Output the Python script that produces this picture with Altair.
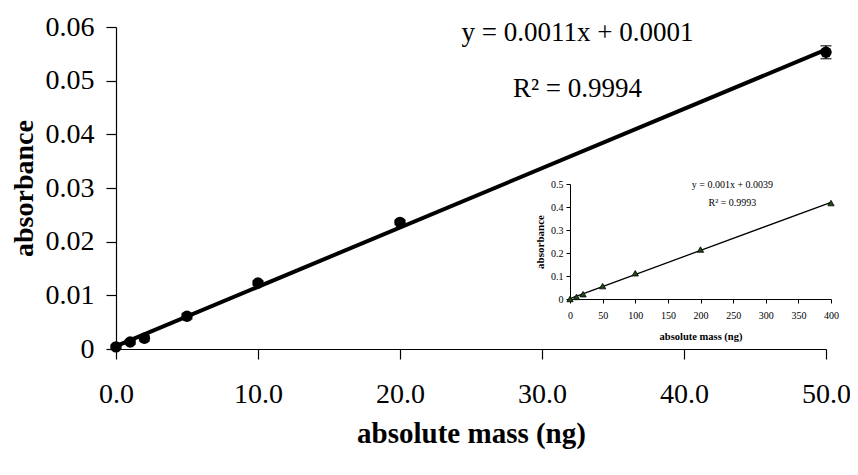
import altair as alt
import pandas as pd

# ---- main calibration data (ng vs absorbance) ----
mass_ng = [0, 1, 2, 5, 10, 20, 50]
absorbance = [0.0004, 0.0013, 0.0020, 0.0061, 0.0123, 0.0236, 0.0553]
abs_err = [0.0003, 0.0004, 0.0005, 0.0005, 0.0004, 0.0004, 0.0012]

# ---- inset data ----
inset_mass = [0, 10, 20, 50, 100, 200, 400]
inset_abs = [0.0, 0.009, 0.021, 0.056, 0.112, 0.215, 0.417]

# ---- tick values ----
x_ticks = [0, 10, 20, 30, 40, 50]
y_ticks = [0, 0.01, 0.02, 0.03, 0.04, 0.05, 0.06]
inset_x_ticks = [0, 50, 100, 150, 200, 250, 300, 350, 400]
inset_y_ticks = [0, 0.1, 0.2, 0.3, 0.4, 0.5]

# ---- annotations ----
main_eq_text = ["y = 0.0011x + 0.0001", "R\u00b2 = 0.9994"]
main_eq_x = [32.5, 32.5]
main_eq_y = [0.0589, 0.0484]
inset_eq_text = ["y = 0.001x + 0.0039", "R\u00b2 = 0.9993"]
inset_eq_x = [249, 249]
inset_eq_y = [0.497, 0.417]

FONT = "Liberation Serif"
W, H = 710, 322

main_df = pd.DataFrame({
    "mass": mass_ng,
    "abs": absorbance,
    "lo": [a - e for a, e in zip(absorbance, abs_err)],
    "hi": [a + e for a, e in zip(absorbance, abs_err)],
})
inset_df = pd.DataFrame({"mass": inset_mass, "abs": inset_abs})
main_ann = pd.DataFrame({"t": main_eq_text, "x": main_eq_x, "y": main_eq_y})
inset_ann = pd.DataFrame({"t": inset_eq_text, "x": inset_eq_x, "y": inset_eq_y})

xs = alt.Scale(domain=[0, 50], nice=False, zero=False)
ys = alt.Scale(domain=[0, 0.06], nice=False)

x_axis = alt.Axis(
    values=x_ticks, format=".1f", grid=False, tickSize=10, labelPadding=21,
    labelFontSize=28, labelFont=FONT, labelColor="black", labelFlush=False,
    title="absolute mass (ng)", titleFont=FONT, titleFontSize=29,
    titleFontWeight="bold", titleColor="black", titlePadding=11,
    domainColor="black", tickColor="black", domainWidth=1.2, tickWidth=1.2,
    orient="bottom",
)
y_axis = alt.Axis(
    values=y_ticks, labelExpr="datum.value == 0 ? '0' : format(datum.value, '.2f')",
    grid=False, tickSize=10, labelPadding=12, labelFontSize=28, labelFont=FONT,
    labelColor="black", labelFlush=False,
    title="absorbance", titleFont=FONT, titleFontSize=28, titleFontWeight="bold",
    titleColor="black", titlePadding=7,
    domainColor="black", tickColor="black", domainWidth=1.2, tickWidth=1.2,
    orient="left",
)

base = alt.Chart(main_df)
main_line = base.transform_regression("mass", "abs").mark_line(
    color="black", strokeWidth=4
).encode(
    x=alt.X("mass:Q", scale=xs, axis=x_axis),
    y=alt.Y("abs:Q", scale=ys, axis=y_axis),
)
main_err = base.mark_rule(color="black", strokeWidth=1.5).encode(
    x=alt.X("mass:Q", scale=xs), y=alt.Y("lo:Q", scale=ys), y2="hi:Q"
)
main_cap_lo = base.mark_tick(color="black", orient="horizontal", size=11, thickness=1.5).encode(
    x=alt.X("mass:Q", scale=xs), y=alt.Y("lo:Q", scale=ys)
)
main_cap_hi = base.mark_tick(color="black", orient="horizontal", size=11, thickness=1.5).encode(
    x=alt.X("mass:Q", scale=xs), y=alt.Y("hi:Q", scale=ys)
)
main_pts = base.mark_point(filled=True, color="black", size=130, opacity=1).encode(
    x=alt.X("mass:Q", scale=xs), y=alt.Y("abs:Q", scale=ys)
)
main_txt = alt.Chart(main_ann).mark_text(
    font=FONT, fontSize=27, color="black", align="center", baseline="middle"
).encode(x=alt.X("x:Q", scale=xs), y=alt.Y("y:Q", scale=ys), text="t:N")

main = alt.layer(main_line, main_err, main_cap_lo, main_cap_hi, main_pts, main_txt)

# ---- inset, drawn with its own scales placed inside the plot ----
ixs = alt.Scale(domain=[0, 400], range=[454, 715], nice=False, zero=False)
iys = alt.Scale(domain=[0, 0.5], range=[272, 157], nice=False)

ix_axis = alt.Axis(
    values=inset_x_ticks, grid=False, tickSize=4, labelPadding=7,
    labelFontSize=10, labelFont=FONT, labelColor="black", labelFlush=False,
    title="absolute mass (ng)", titleFont=FONT, titleFontSize=10.5,
    titleFontWeight="bold", titleColor="black", titlePadding=11,
    domainColor="black", tickColor="black", orient="bottom", offset=-50,
)
iy_axis = alt.Axis(
    values=inset_y_ticks, labelExpr="datum.value == 0 ? '0' : format(datum.value, '.1f')",
    grid=False, tickSize=4, labelPadding=3, labelFontSize=10, labelFont=FONT,
    labelColor="black", labelFlush=False,
    title="absorbance", titleFont=FONT, titleFontSize=11, titleFontWeight="bold",
    titleColor="black", titlePadding=5,
    domainColor="black", tickColor="black", orient="left", offset=-454,
)

ibase = alt.Chart(inset_df)
inset_line = ibase.transform_regression("mass", "abs").mark_line(
    color="black", strokeWidth=1.3
).encode(
    x=alt.X("mass:Q", scale=ixs, axis=ix_axis),
    y=alt.Y("abs:Q", scale=iys, axis=iy_axis),
)
inset_pts = ibase.mark_point(
    shape="triangle-up", filled=True, fill="#1e4d14", stroke="black",
    strokeWidth=0.8, size=40, opacity=1
).encode(x=alt.X("mass:Q", scale=ixs), y=alt.Y("abs:Q", scale=iys))
inset_txt = alt.Chart(inset_ann).mark_text(
    font=FONT, fontSize=10, color="black", align="center", baseline="middle"
).encode(x=alt.X("x:Q", scale=ixs), y=alt.Y("y:Q", scale=iys), text="t:N")

inset = alt.layer(inset_line, inset_pts, inset_txt)

chart = alt.layer(main, inset).resolve_scale(
    x="independent", y="independent"
).resolve_axis(
    x="independent", y="independent"
).properties(
    width=W, height=H,
    autosize=alt.AutoSizeParams(type="none"),
    padding={"left": 108, "top": 19, "right": 24, "bottom": 110},
    background="white",
).configure_view(stroke=None)

chart.save("out.html", embed_options={"renderer": "svg", "actions": False})
